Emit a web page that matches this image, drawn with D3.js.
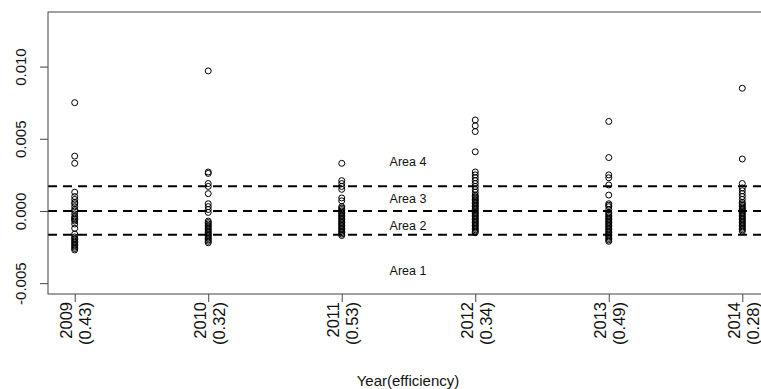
<!DOCTYPE html>
<meta charset="utf-8">
<style>
  body { margin: 0; background: #fff; }
  text { font-family: "Liberation Sans", Arial, sans-serif; fill: #111; }
  .pts circle { fill: none; stroke: #000; stroke-width: 1; }
  .cut line { stroke: #000; stroke-width: 2; stroke-dasharray: 9,6; }
</style>
<svg width="761" height="389"></svg>
<script src="https://cdn.jsdelivr.net/npm/d3@7"></script>
<script>

  var years = ["2009", "2010", "2011", "2012", "2013", "2014"];
  var efficiency = ["(0.43)", "(0.32)", "(0.53)", "(0.34)", "(0.49)", "(0.28)"];

  var v2009 = [0.0075, 0.0038, 0.0033, 0.0013, 0.0010, 0.0008, 0.0006, 0.0005, 0.0003, 0.0001, 0.0000,
    -0.0002, -0.0004, -0.0005, -0.0006, -0.0007, -0.0009, -0.0012, -0.0016, -0.0018, -0.0019, -0.0020,
    -0.0021, -0.0022, -0.0023, -0.0024, -0.0025, -0.0026, -0.0027];
  var v2010 = [0.0097, 0.0027, 0.0026, 0.0019, 0.0017, 0.0012, 0.0005, 0.0003, 0.0001, -0.0001,
    -0.0007, -0.0008, -0.0009, -0.0010, -0.0011, -0.0012, -0.0013, -0.0014, -0.0015, -0.0016,
    -0.0017, -0.0018, -0.0019, -0.0020, -0.0021, -0.0022];
  var v2011 = [0.0033, 0.0021, 0.0019, 0.0017, 0.0015, 0.0009, 0.0007, 0.0003, 0.0002, 0.0001, 0.0000,
    -0.0001, -0.0002, -0.0003, -0.0004, -0.0005, -0.0006, -0.0007, -0.0008, -0.0009, -0.0010,
    -0.0011, -0.0012, -0.0013, -0.0014, -0.0015, -0.0016, -0.0017];
  var v2012 = [0.0063, 0.0059, 0.0055, 0.0041, 0.0027, 0.0025, 0.0023, 0.0021, 0.0019, 0.0017, 0.0015,
    0.0013, 0.0011, 0.0010, 0.0009, 0.0008, 0.0007, 0.0006, 0.0005, 0.0004, 0.0003, 0.0002, 0.0001,
    0.0000, -0.0001, -0.0002, -0.0003, -0.0004, -0.0005, -0.0006, -0.0007, -0.0008, -0.0009,
    -0.0010, -0.0011, -0.0012, -0.0013, -0.0014, -0.0015];
  var v2013 = [0.0062, 0.0037, 0.0025, 0.0023, 0.0018, 0.0011, 0.0005, 0.0004, 0.0003, 0.0001,
    -0.0001, -0.0002, -0.0003, -0.0004, -0.0005, -0.0006, -0.0007, -0.0008, -0.0009, -0.0010,
    -0.0011, -0.0012, -0.0013, -0.0014, -0.0015, -0.0016, -0.0017, -0.0018, -0.0019, -0.0020, -0.0021];
  var v2014 = [0.0085, 0.0036, 0.0019, 0.0016, 0.0014, 0.0012, 0.0010, 0.0008, 0.0006, 0.0005, 0.0004,
    0.0003, 0.0002, 0.0001, 0.0000, -0.0001, -0.0002, -0.0003, -0.0004, -0.0005, -0.0006, -0.0007,
    -0.0008, -0.0009, -0.0010, -0.0011, -0.0012, -0.0013, -0.0014];

  var values = [v2009, v2010, v2011, v2012, v2013, v2014];

  // thresholds separating the areas
  var cuts = [0.00172, 0.0, -0.00164];
  var areaNames = ["Area 4", "Area 3", "Area 2", "Area 1"];
  var areaAt = [0.0034, 0.00085, -0.001, -0.0041];

  var yTicks = [-0.005, 0, 0.005, 0.010];

  var svg = d3.select("svg");
  var mLeft = 48, mTop = 12, mBottom = 294, mRight = 769;

  // index scale, padded like R (4% each side)
  var x = d3.scaleLinear().domain([0.8, 6.2]).range([mLeft, mRight]);
  var y = d3.scaleLinear().domain([-0.00575, 0.01378]).range([mBottom, mTop]);

  // dashed lines
  svg.append("g").attr("class", "cut")
    .selectAll("line").data(cuts).enter().append("line")
    .attr("x1", mLeft).attr("x2", mRight)
    .attr("y1", function (d) { return y(d); })
    .attr("y2", function (d) { return y(d); });

  // points
  var pts = [];
  values.forEach(function (arr, i) {
    arr.forEach(function (v) { pts.push({ i: i + 1, v: v }); });
  });
  svg.append("g").attr("class", "pts")
    .selectAll("circle").data(pts).enter().append("circle")
    .attr("r", 3)
    .attr("cx", function (d) { return x(d.i); })
    .attr("cy", function (d) { return y(d.v); });

  // area labels
  svg.append("g").selectAll("text").data(areaNames).enter().append("text")
    .attr("x", 408)
    .attr("y", function (d, i) { return y(areaAt[i]) + 4.5; })
    .attr("text-anchor", "middle")
    .style("font-size", "12.5px")
    .text(function (d) { return d; });

  // box
  svg.append("rect")
    .attr("x", mLeft).attr("y", mTop)
    .attr("width", mRight - mLeft).attr("height", mBottom - mTop)
    .attr("fill", "none").attr("stroke", "#444").attr("stroke-width", 1);

  // y axis (plain hyphen for negatives, like R)
  var fmt = function (d) { return d3.format(".3f")(d).replace("\u2212", "-"); };
  var yAxis = svg.append("g").attr("transform", "translate(" + mLeft + ",0)")
    .call(d3.axisLeft(y).tickValues(yTicks).tickSize(8).tickFormat(fmt));
  yAxis.select(".domain").remove();
  yAxis.selectAll("line").attr("stroke", "#444");
  yAxis.selectAll(".tick text")
    .attr("transform", "rotate(-90)")
    .attr("x", 0).attr("y", -22).attr("dy", 0)
    .attr("text-anchor", "middle")
    .attr("fill", "#111")
    .style("font-size", "15px");

  // x axis
  var xAxis = svg.append("g").attr("transform", "translate(0," + mBottom + ")")
    .call(d3.axisBottom(x).tickValues([1, 2, 3, 4, 5, 6]).tickSize(8).tickFormat(""));
  xAxis.select(".domain").remove();
  xAxis.selectAll("line").attr("stroke", "#444");
  xAxis.selectAll(".tick").each(function (d) {
    var g = d3.select(this);
    g.append("text").attr("transform", "rotate(-90)")
      .attr("x", -8).attr("y", -3).attr("text-anchor", "end")
      .style("font-size", "16.5px").text(years[d - 1]);
    g.append("text").attr("transform", "rotate(-90)")
      .attr("x", -8).attr("y", 16).attr("text-anchor", "end")
      .style("font-size", "16.5px").text(efficiency[d - 1]);
  });

  svg.append("text")
    .attr("x", 408).attr("y", 386)
    .attr("text-anchor", "middle")
    .style("font-size", "15px")
    .text("Year(efficiency)");
</script>
